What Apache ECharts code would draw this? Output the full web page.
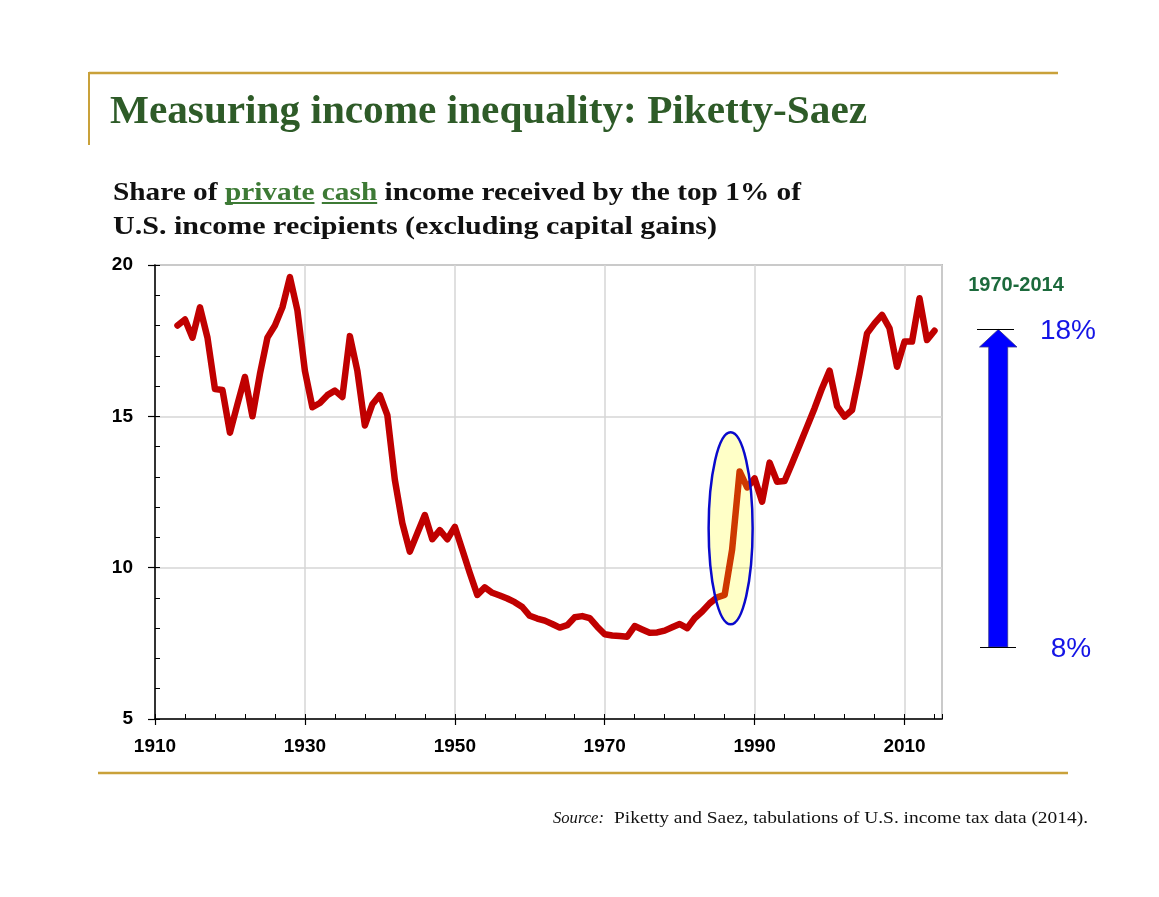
<!DOCTYPE html>
<html>
<head>
<meta charset="utf-8">
<script src="https://cdn.jsdelivr.net/npm/echarts@6/dist/echarts.min.js"></script>
<style>
html,body{margin:0;padding:0;background:#fff;}
#c{width:1159px;height:897px;}
</style>
</head>
<body>
<div id="c"></div>
<script>
// ---- data ----
const years = [1913,1914,1915,1916,1917,1918,1919,1920,1921,1922,1923,1924,1925,1926,1927,1928,1929,1930,
  1931,1932,1933,1934,1935,1936,1937,1938,1939,1940,1941,1942,1943,1944,1945,1946,1947,1948,1949,1950,
  1951,1952,1953,1954,1955,1956,1957,1958,1959,1960,1961,1962,1963,1964,1965,1966,1967,1968,1969,1970,
  1971,1972,1973,1974,1975,1976,1977,1978,1979,1980,1981,1982,1983,1984,1985,1986,1987,1988,1989,1990,
  1991,1992,1993,1994,1995,1996,1997,1998,1999,2000,2001,2002,2003,2004,2005,2006,2007,2008,2009,2010,
  2011,2012,2013,2014];
const topShare = [18.0,18.2,17.6,18.6,17.6,15.9,15.87,14.46,15.4,16.3,15.0,16.4,17.6,18.0,18.6,19.6,18.5,16.5,
  15.3,15.44,15.7,15.85,15.64,17.65,16.5,14.7,15.4,15.7,15.04,12.9,11.47,10.53,11.14,11.74,10.94,11.24,10.94,11.35,
  10.59,9.82,9.1,9.35,9.17,9.08,8.98,8.86,8.7,8.41,8.32,8.25,8.14,8.02,8.1,8.36,8.4,8.33,8.05,7.8,
  7.76,7.74,7.72,8.07,7.96,7.85,7.86,7.92,8.03,8.14,8.0,8.33,8.55,8.82,9.02,9.1,10.6,13.18,12.65,12.95,
  12.18,13.47,12.84,12.86,13.45,14.05,14.66,15.27,15.93,16.51,15.34,14.99,15.21,16.42,17.74,18.07,18.35,17.91,16.64,17.47,
  17.47,18.9,17.52,17.83];
const xTickLabels = [1910,1930,1950,1970,1990,2010];
const yTickLabels = [5,10,15,20];
const titleText = 'Measuring income inequality: Piketty-Saez';
const subtitleLine1 = ['Share of ', 'private', ' ', 'cash', ' income received by the top 1% of'];
const subtitleLine2 = 'U.S. income recipients (excluding capital gains)';
const periodLabel = '1970-2014';
const highLabel = '18%';
const lowLabel = '8%';
const sourceLabel = 'Source:';
const sourceText = 'Piketty and Saez, tabulations of U.S. income tax data (2014).';
// highlighted region (1986-1988 jump), centre in data units
const ellipseCenter = [1986.8, 11.3];

const seriesData = years.map((y, i) => [y, topShare[i]]);

const chart = echarts.init(document.getElementById('c'), null, {renderer: 'canvas'});

const serif = '"Liberation Serif", "Times New Roman", serif';
const sans = '"Liberation Sans", Arial, sans-serif';

const mctx = document.createElement('canvas').getContext('2d');
function measure(text, font) { mctx.font = font; return mctx.measureText(text).width; }

// text stretched horizontally to span a target width (reference uses a wider serif face)
function fitText(text, font, x, y, targetW, fill) {
  const w = measure(text, font);
  return {type: 'text', x: x, y: y, scaleX: targetW / w, silent: true,
    style: {text: text, font: font, fill: fill, align: 'left', verticalAlign: 'top'}};
}

const subFont = 'bold 25px ' + serif;
const subGreen = '#3D7A35';
const line1W = subtitleLine1.reduce((s, t) => s + measure(t, subFont), 0);
const s1 = 688 / line1W;
let xPos = 113;
const subGraphics = [];
subtitleLine1.forEach(seg => {
  const w = measure(seg, subFont) * s1;
  const green = (seg === 'private' || seg === 'cash');
  subGraphics.push({
    type: 'text', x: xPos, y: 181, scaleX: s1, silent: true,
    style: {text: seg, font: subFont, fill: green ? subGreen : '#111', align: 'left', verticalAlign: 'top'}
  });
  if (green) {
    subGraphics.push({
      type: 'line', silent: true,
      shape: {x1: xPos, y1: 203, x2: xPos + w, y2: 203},
      style: {stroke: subGreen, lineWidth: 2}
    });
  }
  xPos += w;
});

const gold = '#C9A13A';

const option = {
  animation: false,
  backgroundColor: '#fff',
  grid: {left: 155, right: 217, top: 265, bottom: 178, show: true, borderColor: '#8a8a8a', borderWidth: 1.5},
  xAxis: [{
    type: 'value', min: 1910, max: 2015, interval: 20,
    axisLine: {show: true, lineStyle: {color: '#000', width: 1.5}},
    axisTick: {show: true, inside: false, length: 6, lineStyle: {color: '#000', width: 1.2}},
    axisLabel: {
      margin: 18, color: '#000', fontFamily: sans, fontWeight: 'bold', fontSize: 19,
      showMaxLabel: false,
      formatter: v => xTickLabels.indexOf(v) >= 0 ? String(v) : ''
    },
    splitLine: {show: true, lineStyle: {color: '#d6d6d6', width: 1.5}}
  }, {
    type: 'value', min: 1910, max: 2015, interval: 4, position: 'bottom',
    axisLine: {show: false},
    axisTick: {show: true, inside: true, length: 5, lineStyle: {color: '#000', width: 1}},
    axisLabel: {show: false}, splitLine: {show: false}
  }],
  yAxis: [{
    type: 'value', min: 5, max: 20, interval: 5,
    axisLine: {show: true, lineStyle: {color: '#000', width: 1.5}},
    axisTick: {show: true, inside: false, length: 7, lineStyle: {color: '#000', width: 1.2}},
    axisLabel: {
      margin: 22, color: '#000', fontFamily: sans, fontWeight: 'bold', fontSize: 19,
      formatter: v => yTickLabels.indexOf(v) >= 0 ? String(v) : ''
    },
    splitLine: {show: true, lineStyle: {color: '#d6d6d6', width: 1.5}}
  }, {
    type: 'value', min: 5, max: 20, interval: 1, position: 'left',
    axisLine: {show: false},
    axisTick: {show: true, inside: true, length: 5, lineStyle: {color: '#000', width: 1}},
    axisLabel: {show: false}, splitLine: {show: false}
  }],
  series: [{
    type: 'line', xAxisIndex: 0, yAxisIndex: 0,
    data: seriesData, showSymbol: false, symbol: 'none',
    lineStyle: {color: '#C00000', width: 6.5, join: 'round', cap: 'round'},
    z: 3
  }]
};
chart.setOption(option);

const c = chart.convertToPixel({xAxisIndex: 0, yAxisIndex: 0}, ellipseCenter);

const graphics = [
  // gold frame lines
  {type: 'line', silent: true, shape: {x1: 89, y1: 73, x2: 1058, y2: 73}, style: {stroke: gold, lineWidth: 2.5}},
  {type: 'line', silent: true, shape: {x1: 89, y1: 72, x2: 89, y2: 145}, style: {stroke: gold, lineWidth: 2}},
  {type: 'line', silent: true, shape: {x1: 98, y1: 773, x2: 1068, y2: 773}, style: {stroke: gold, lineWidth: 2.5}},
  // title
  fitText(titleText, 'bold 40px ' + serif, 110, 93, 757, '#2E5B28'),
  // subtitle line 2
  fitText(subtitleLine2, subFont, 113, 215, 604, '#111'),
  // highlight ellipse
  {type: 'ellipse', silent: true, z: 50,
    shape: {cx: c[0], cy: c[1], rx: 22, ry: 96},
    style: {fill: 'rgba(255,255,0,0.22)', stroke: '#0A0ACC', lineWidth: 2.5}},
  // arrow
  {type: 'polygon', silent: true, z: 50,
    shape: {points: [[988.7,647],[1007.7,647],[1007.7,347],[1017,347],[998.3,329.5],[979.5,347],[988.7,347]]},
    style: {fill: '#0000FF', stroke: '#3a3a8a', lineWidth: 0.8}},
  {type: 'line', silent: true, z: 51, shape: {x1: 977, y1: 329.5, x2: 1014, y2: 329.5}, style: {stroke: '#000', lineWidth: 1.2}},
  {type: 'line', silent: true, z: 51, shape: {x1: 980, y1: 647.5, x2: 1016, y2: 647.5}, style: {stroke: '#000', lineWidth: 1.2}},
  {type: 'text', silent: true, x: 1016, y: 285,
    style: {text: periodLabel, font: 'bold 20px ' + sans, fill: '#1C6A3C', align: 'center', verticalAlign: 'middle'}},
  {type: 'text', silent: true, x: 1068, y: 331,
    style: {text: highLabel, font: '28px ' + sans, fill: '#1414E6', align: 'center', verticalAlign: 'middle'}},
  {type: 'text', silent: true, x: 1071, y: 649,
    style: {text: lowLabel, font: '28px ' + sans, fill: '#1414E6', align: 'center', verticalAlign: 'middle'}},
  // source
  fitText(sourceLabel, 'italic 17px ' + serif, 553, 810, 51, '#111'),
  fitText(sourceText, '17px ' + serif, 614, 810, 474, '#111')
].concat(subGraphics);

chart.setOption({graphic: graphics});
</script>
</body>
</html>
